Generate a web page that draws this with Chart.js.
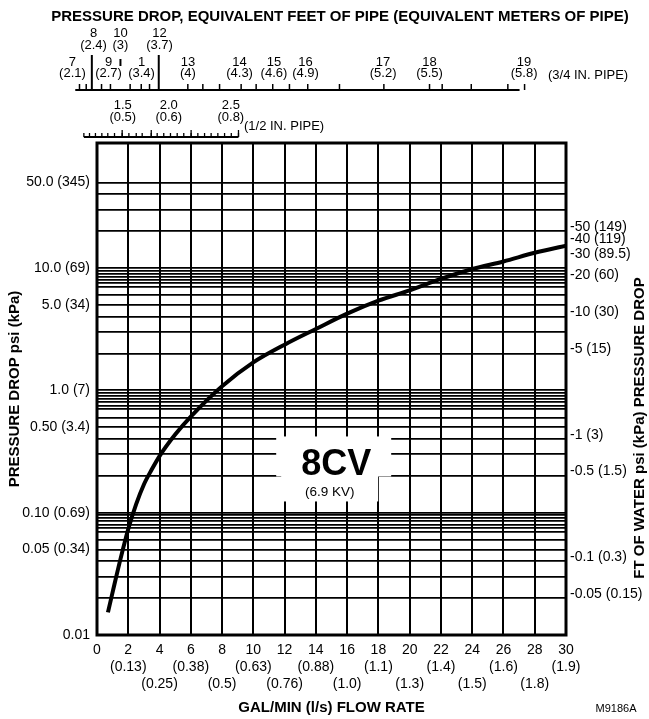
<!DOCTYPE html>
<html><head><meta charset="utf-8">
<script src="https://cdn.jsdelivr.net/npm/chart.js@4.4.1/dist/chart.umd.min.js"></script>
<style>html,body{margin:0;padding:0;background:#fff;}canvas{display:block;}</style>
</head><body>
<canvas id="c" width="649" height="719"></canvas>
<script>
// ---- data ----
const flowGpm = [0.7, 1, 1.5, 2, 2.5, 3, 3.5, 4, 5, 6, 8, 10, 12, 14, 16, 18, 20, 22, 24, 26, 28, 30];
const dropPsi = [0.0153, 0.0224, 0.0417, 0.0735, 0.117, 0.17, 0.225, 0.29, 0.435, 0.61, 1.08, 1.69, 2.36, 3.17, 4.23, 5.4, 6.56, 8.13, 9.8, 11.3, 13.3, 15.2];

const xTickValues = [0, 2, 4, 6, 8, 10, 12, 14, 16, 18, 20, 22, 24, 26, 28, 30];
const xLitreLabels = ['', '(0.13)', '(0.25)', '(0.38)', '(0.5)', '(0.63)', '(0.76)', '(0.88)', '(1.0)', '(1.1)', '(1.3)', '(1.4)', '(1.5)', '(1.6)', '(1.8)', '(1.9)'];

const psiGridValues = [0.01, 0.02, 0.03, 0.04, 0.05, 0.06, 0.07, 0.075, 0.08, 0.085, 0.09, 0.095, 0.1,
  0.2, 0.3, 0.4, 0.5, 0.6, 0.7, 0.75, 0.8, 0.85, 0.9, 0.95, 1,
  2, 3, 4, 5, 6, 7, 7.5, 8, 8.5, 9, 9.5, 10,
  20, 30, 40, 50];
const psiLabelValues = [0.01, 0.05, 0.1, 0.5, 1, 5, 10, 50];
const psiLabelTexts = ['0.01', '0.05 (0.34)', '0.10 (0.69)', '0.50 (3.4)', '1.0 (7)', '5.0 (34)', '10.0 (69)', '50.0 (345)'];

const ftWaterValues = [50, 40, 30, 20, 10, 5, 1, 0.5, 0.1, 0.05];
const ftWaterTexts = ['-50 (149)', '-40 (119)', '-30 (89.5)', '-20 (60)', '-10 (30)', '-5 (15)', '-1 (3)', '-0.5 (1.5)', '-0.1 (0.3)', '-0.05 (0.15)'];
const psiToFtWater = 2.31;
const psiMin = 0.01, psiMax = 105;

// top auxiliary scales: equivalent feet (meters) of pipe, placed along the flow axis
const pipe34Feet = ['7', '8', '9', '10', '1', '12', '13', '14', '15', '16', '17', '18', '19'];
const pipe34Meters = ['(2.1)', '(2.4)', '(2.7)', '(3)', '(3.4)', '(3.7)', '(4)', '(4.3)', '(4.6)', '(4.9)', '(5.2)', '(5.5)', '(5.8)'];
const pipe34LabelAt = [-1.57, -0.22, 0.74, 1.50, 2.85, 4.00, 5.82, 9.12, 11.32, 13.34, 18.30, 21.27, 27.32];
const pipe34Raised = ['8', '10', '12'];
const pipe34TickAt = [-1.12, -0.69, 0.29, 0.86, 2.12, 2.83, 3.36, 5.81, 6.77, 7.84, 9.22, 10.18, 11.24, 12.31, 13.48, 15.51, 18.35, 21.27, 22.08, 23.94, 26.28, 27.35];
const pipe34LongTickAt = [-0.33, 3.95];
const pipe34FloatTickAt = [1.50];
const pipe34Range = [-1.39, 27.03];

const pipe12Feet = ['1.5', '2.0', '2.5'];
const pipe12Meters = ['(0.5)', '(0.6)', '(0.8)'];
const pipe12LabelAt = [1.65, 4.59, 8.56];
const pipe12TickAt = [-0.84, -0.48, -0.10, 0.31, 0.69, 1.12, 1.61, 2.04, 2.51, 2.89, 3.47, 3.85, 4.27, 4.70, 5.13, 5.55, 6.02, 6.45, 6.88, 7.30, 7.73, 8.16, 8.59, 9.05];
const pipe12LongTickAt = [1.61, 3.47, 6.02, 9.05];
const pipe12Range = [-0.84, 9.05];

const cvLabel = '8CV', kvLabel = '(6.9 KV)';
const cvLabelAt = {x: 15.3, y: 0.25};

const FONT = '"Liberation Sans", Arial, Helvetica, sans-serif';
Chart.defaults.font.family = FONT;
Chart.defaults.color = '#000';

const decor = {
  id: 'decor',
  beforeDatasetsDraw(chart) {
    const ctx = chart.ctx, xs = chart.scales.x, ys = chart.scales.y;
    const cx = xs.getPixelForValue(cvLabelAt.x), cy = ys.getPixelForValue(cvLabelAt.y);
    ctx.save();
    ctx.fillStyle = '#fff';
    ctx.fillRect(cx - 60, cy - 27.5, 115, 40);
    ctx.fillRect(cx - 55, cy + 12, 97, 25.5);
    ctx.fillStyle = '#000';
    ctx.textAlign = 'center'; ctx.textBaseline = 'middle';
    ctx.font = 'bold 36px ' + FONT;
    ctx.fillText(cvLabel, cx, cy + 1);
    ctx.font = '13.5px ' + FONT;
    ctx.fillText(kvLabel, cx - 6.5, cy + 28.5);
    ctx.restore();
  },
  afterDraw(chart) {
    const ctx = chart.ctx, xs = chart.scales.x, a = chart.chartArea;
    const px = v => xs.getPixelForValue(v);
    ctx.save();
    ctx.strokeStyle = '#000'; ctx.fillStyle = '#000';
    // frame
    ctx.lineWidth = 3;
    ctx.strokeRect(a.left, a.top, a.right - a.left, a.bottom - a.top);
    // top title
    ctx.textAlign = 'center'; ctx.textBaseline = 'middle';
    ctx.font = 'bold 15px ' + FONT;
    ctx.fillText('PRESSURE DROP, EQUIVALENT FEET OF PIPE (EQUIVALENT METERS OF PIPE)', 340, 17);
    // 3/4 in pipe scale
    const y34 = 90;
    ctx.lineWidth = 2;
    ctx.beginPath(); ctx.moveTo(px(pipe34Range[0]), y34); ctx.lineTo(px(pipe34Range[1]), y34); ctx.stroke();
    ctx.lineWidth = 1.5;
    pipe34TickAt.forEach(v => { ctx.beginPath(); ctx.moveTo(px(v), y34); ctx.lineTo(px(v), y34 - 6); ctx.stroke(); });
    ctx.lineWidth = 2;
    pipe34LongTickAt.forEach(v => { ctx.beginPath(); ctx.moveTo(px(v), y34); ctx.lineTo(px(v), 55); ctx.stroke(); });
    pipe34FloatTickAt.forEach(v => { ctx.beginPath(); ctx.moveTo(px(v), 59); ctx.lineTo(px(v), 66); ctx.stroke(); });
    ctx.font = '13px ' + FONT;
    pipe34Feet.forEach((t, i) => {
      const up = pipe34Raised.includes(t);
      const x = px(pipe34LabelAt[i]);
      ctx.fillText(t, x, up ? 33 : 62);
      ctx.fillText(pipe34Meters[i], x, up ? 45 : 73.5);
    });
    ctx.textAlign = 'left';
    ctx.fillText('(3/4 IN. PIPE)', 548, 75);
    // 1/2 in pipe scale
    const y12 = 137;
    ctx.textAlign = 'center';
    ctx.lineWidth = 2;
    ctx.beginPath(); ctx.moveTo(px(pipe12Range[0]), y12); ctx.lineTo(px(pipe12Range[1]), y12); ctx.stroke();
    ctx.lineWidth = 1.3;
    pipe12TickAt.forEach(v => { ctx.beginPath(); ctx.moveTo(px(v), y12); ctx.lineTo(px(v), y12 - 4); ctx.stroke(); });
    pipe12LongTickAt.forEach(v => { ctx.beginPath(); ctx.moveTo(px(v), y12); ctx.lineTo(px(v), y12 - 7); ctx.stroke(); });
    pipe12Feet.forEach((t, i) => {
      const x = px(pipe12LabelAt[i]);
      ctx.fillText(t, x, 105);
      ctx.fillText(pipe12Meters[i], x, 117);
    });
    ctx.textAlign = 'left';
    ctx.fillText('(1/2 IN. PIPE)', 244, 126);
    // right title (reads bottom to top)
    ctx.save();
    ctx.translate(640, 428);
    ctx.rotate(-Math.PI / 2);
    ctx.textAlign = 'center';
    ctx.font = 'bold 15px ' + FONT;
    ctx.fillText('FT OF WATER psi (kPa) PRESSURE DROP', 0, 0);
    ctx.restore();
    // figure code
    ctx.textAlign = 'center';
    ctx.font = '11px ' + FONT;
    ctx.fillText('M9186A', 616, 709);
    ctx.restore();
  }
};

new Chart(document.getElementById('c'), {
  type: 'line',
  data: {
    datasets: [{
      data: flowGpm.map((q, i) => ({x: q, y: dropPsi[i]})),
      borderColor: '#000', borderWidth: 4, pointRadius: 0,
      cubicInterpolationMode: 'monotone', fill: false
    }]
  },
  options: {
    responsive: false, animation: false,
    layout: {padding: {top: 143, left: 0, right: 0, bottom: 0}},
    plugins: {legend: {display: false}, tooltip: {enabled: false}},
    scales: {
      x: {
        type: 'linear', position: 'bottom', min: 0, max: 30,
        afterBuildTicks: s => { s.ticks = xTickValues.map(v => ({value: v})); },
        afterFit: s => { s.height = 84; },
        grid: {color: '#000', lineWidth: 2, drawTicks: false},
        border: {display: false},
        ticks: {
          autoSkip: false, maxRotation: 0, minRotation: 0, padding: 7,
          font: {size: 14, lineHeight: 1.19},
          callback: (v, i) => {
            const n = String(xTickValues[i]);
            if (i === 0) return n;
            return (i % 2 === 1) ? [n, xLitreLabels[i]] : [n, '', xLitreLabels[i]];
          }
        },
        title: {display: true, text: 'GAL/MIN (l/s) FLOW RATE', font: {size: 15, weight: 'bold'}, padding: {top: 0, bottom: 2}}
      },
      y: {
        type: 'logarithmic', position: 'left', min: psiMin, max: psiMax,
        afterBuildTicks: s => { s.ticks = psiGridValues.map(v => ({value: v})); },
        afterFit: s => { s.width = 97; },
        grid: {color: '#000', lineWidth: 1.8, drawTicks: false},
        border: {display: false},
        ticks: {
          autoSkip: false, padding: 7, font: {size: 14},
          callback: v => { const k = psiLabelValues.findIndex(p => Math.abs(p - v) < 1e-9); return k < 0 ? '' : psiLabelTexts[k]; }
        },
        title: {display: true, text: 'PRESSURE DROP psi (kPa)', font: {size: 15, weight: 'bold'}, padding: {top: 6, bottom: 0}}
      },
      yFt: {
        type: 'logarithmic', position: 'right', min: psiMin * psiToFtWater, max: psiMax * psiToFtWater,
        afterBuildTicks: s => { s.ticks = ftWaterValues.map(v => ({value: v})); },
        afterFit: s => { s.width = 83; },
        grid: {display: false, drawTicks: false},
        border: {display: false},
        ticks: {
          autoSkip: false, padding: 4, font: {size: 14},
          callback: v => { const k = ftWaterValues.findIndex(p => Math.abs(p - v) < 1e-9); return k < 0 ? '' : ftWaterTexts[k]; }
        }
      }
    }
  },
  plugins: [decor]
});
</script>
</body></html>
